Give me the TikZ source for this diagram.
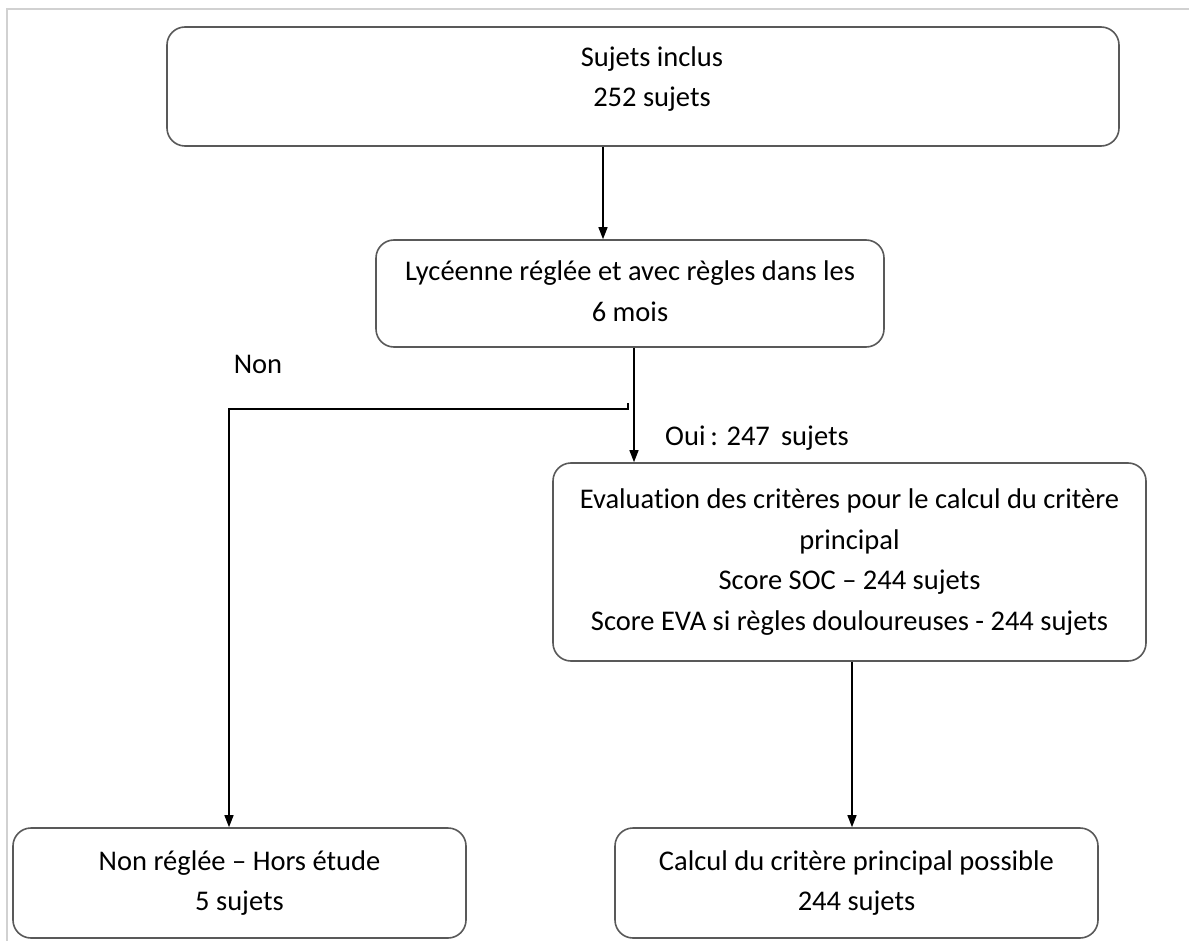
\documentclass[tikz,border=0pt]{standalone}
\usepackage{fontspec}
\setmainfont[Ligatures=NoCommon]{Carlito}
\usetikzlibrary{arrows.meta}
\begin{document}
\begin{tikzpicture}[x=1pt,y=-1pt,
  box/.style={draw=black!65,line width=1.6pt,rounded corners=18pt,align=center,inner sep=0pt,
    font=\fontsize{28.5}{40.5}\selectfont},
  txt/.style={align=center,inner sep=0pt,font=\fontsize{28.5}{40.5}\selectfont},
  conn/.style={draw=black,line width=1.3pt,-{Triangle[length=12pt,width=9pt]}},
  lbl/.style={font=\fontsize{28.5}{32}\selectfont,inner sep=0pt}]
\useasboundingbox (0,0) rectangle (1189,941);
\draw[black!18,line width=1.5pt] (7,945) -- (7,9) -- (1195,9);
\node[box,minimum width=952pt,minimum height=119pt] (incl) at (643,86.5) {};
\node[txt] (incltxt) at (652,79) {Sujets inclus\\252 sujets};
\node[box,minimum width=508pt,minimum height=107pt] (lyc) at (630,293.5) {};
\node[txt] (lyctxt) at (630,291) {Lycéenne réglée et avec règles dans les\\6 mois};
\node[box,minimum width=593pt,minimum height=198pt] (eval) at (849.5,562) {Evaluation des critères pour le calcul du critère\\principal\\Score SOC – 244 sujets\\Score EVA si règles douloureuses - 244 sujets};
\node[box,minimum width=453pt,minimum height=110pt] (non) at (239.5,883) {Non réglée – Hors étude\\5 sujets};
\node[box,minimum width=483pt,minimum height=110pt] (calc) at (856.5,883) {Calcul du critère principal possible\\244 sujets};
\coordinate (split) at (628,403);
\draw[conn] (incl.south -| 603,0) -- (lyc.north -| 603,0);
\draw[conn] (lyc.south -| 634,0) -- (eval.north -| 634,0);
\draw[conn,line width=1.3pt] (split) -- (628,409) -- (229,409) -- (non.north -| 229,0);
\draw[conn] (eval.south -| 852,0) -- (calc.north -| 852,0);
\node[lbl] (nonlbl) at (258,364) {Non};
\node[lbl] (ouilbl) at (757,438) {Oui\,: 247\, sujets};
\end{tikzpicture}
\end{document}
